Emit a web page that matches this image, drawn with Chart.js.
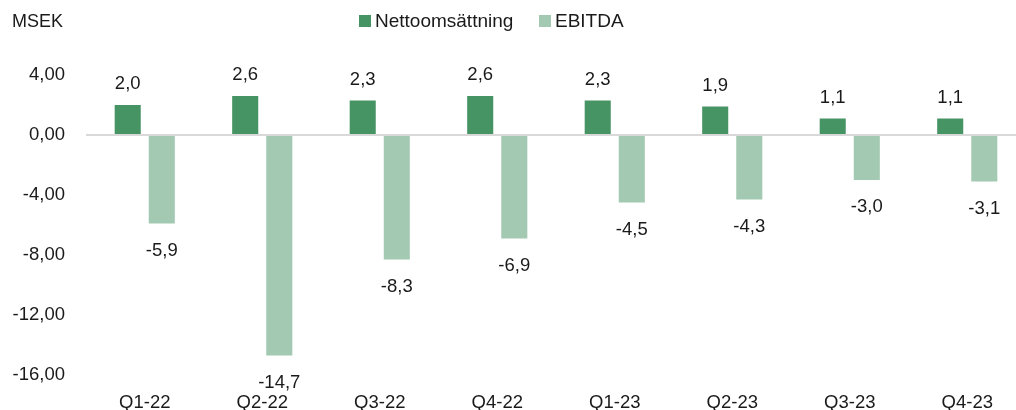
<!DOCTYPE html>
<html>
<head>
<meta charset="utf-8">
<script src="https://cdn.jsdelivr.net/npm/chart.js@4/dist/chart.umd.min.js"></script>
<style>
  html, body { margin: 0; padding: 0; background: #fff; overflow: hidden; }
  #wrap { position: relative; width: 1026px; height: 410px; }
</style>
</head>
<body>
<div id="wrap"><canvas id="chart"></canvas></div>
<script>
// chart data
const quarters = ['Q1-22', 'Q2-22', 'Q3-22', 'Q4-22', 'Q1-23', 'Q2-23', 'Q3-23', 'Q4-23'];
const nettoomsattning = [2.0, 2.6, 2.3, 2.6, 2.3, 1.9, 1.1, 1.1];
const ebitda = [-5.9, -14.7, -8.3, -6.9, -4.5, -4.3, -3.0, -3.1];
const yTicks = [4, 0, -4, -8, -12, -16];
const unitLabel = 'MSEK';

const FONT = '"Liberation Sans", Arial, sans-serif';
const TEXT = '#1a1a1a';

function sv(v, d) {
  return v.toFixed(d).replace('.', ',');
}

// value labels above / below each bar
const valueLabels = {
  id: 'valueLabels',
  afterDatasetsDraw(chart) {
    const ctx = chart.ctx;
    ctx.save();
    ctx.font = '18.5px ' + FONT;
    ctx.fillStyle = TEXT;
    ctx.textAlign = 'center';
    ctx.textBaseline = 'alphabetic';
    chart.data.datasets.forEach((ds, i) => {
      chart.getDatasetMeta(i).data.forEach((bar, j) => {
        const v = ds.data[j];
        const y = v >= 0 ? bar.y - 16 : bar.y + 32;
        ctx.fillText(sv(v, 1), bar.x, y);
      });
    });
    ctx.restore();
  }
};

// unit title and legend at the top
const header = {
  id: 'header',
  afterDraw(chart) {
    const ctx = chart.ctx;
    ctx.save();
    ctx.fillStyle = TEXT;
    ctx.textBaseline = 'alphabetic';
    ctx.font = '18px ' + FONT;
    ctx.fillText(unitLabel, 12, 27);

    ctx.font = '19px ' + FONT;
    const boxX = [359, 539];
    chart.data.datasets.forEach((ds, i) => {
      ctx.fillStyle = ds.backgroundColor;
      ctx.fillRect(boxX[i], 15, 12, 12);
      ctx.fillStyle = TEXT;
      ctx.fillText(ds.label, boxX[i] + 16, 27);
    });
    ctx.restore();
  }
};

new Chart(document.getElementById('chart'), {
  type: 'bar',
  data: {
    labels: quarters,
    datasets: [
      {
        label: 'Nettoomsättning',
        data: nettoomsattning,
        backgroundColor: '#469364',
        categoryPercentage: 0.58,
        barPercentage: 0.765
      },
      {
        label: 'EBITDA',
        data: ebitda,
        backgroundColor: '#a3c9b2',
        categoryPercentage: 0.58,
        barPercentage: 0.765
      }
    ]
  },
  options: {
    responsive: true,
    maintainAspectRatio: false,
    animation: false,
    layout: { padding: { top: 75, left: 0, right: 0, bottom: 0 } },
    plugins: {
      legend: { display: false },
      tooltip: { enabled: false }
    },
    scales: {
      x: {
        grid: { display: false },
        border: { display: false },
        ticks: {
          font: { family: FONT, size: 18.5 },
          color: TEXT,
          padding: 9,
          maxRotation: 0
        },
        afterFit(scale) { scale.height = 35; }
      },
      y: {
        min: -16,
        max: 4,
        afterBuildTicks(scale) {
          scale.ticks = yTicks.map(v => ({ value: v }));
        },
        grid: {
          color: c => (c.tick && c.tick.value === 0 ? '#d9d9d9' : 'rgba(0,0,0,0)'),
          lineWidth: 2,
          drawTicks: false
        },
        border: { display: false },
        ticks: {
          font: { family: FONT, size: 18.5 },
          color: TEXT,
          padding: 21,
          callback: v => sv(v, 2)
        },
        afterFit(scale) { scale.width = 86; }
      }
    }
  },
  plugins: [valueLabels, header]
});
</script>
</body>
</html>
